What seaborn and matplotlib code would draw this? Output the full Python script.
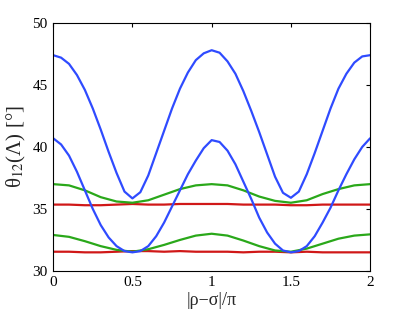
import numpy as np
import pandas as pd
import seaborn as sns
import matplotlib.pyplot as plt

# x grids
x_fine = np.round(np.arange(0, 2.0001, 0.05), 2)
x_coarse = np.round(np.arange(0, 2.0001, 0.1), 2)

# blue curves (read at 0.05 steps)
blue_upper = [47.4, 47.2, 46.7, 45.8, 44.6, 43.1, 41.4, 39.6, 37.9, 36.4, 35.85,
              36.35, 37.7, 39.5, 41.3, 43.1, 44.7, 46.0, 47.0, 47.55, 47.8,
              47.6, 46.9, 45.9, 44.5, 42.9, 41.2, 39.4, 37.6, 36.3, 35.9,
              36.4, 37.8, 39.5, 41.3, 43.1, 44.7, 45.9, 46.8, 47.3, 47.4]
blue_lower = [40.7, 40.2, 39.3, 38.0, 36.5, 35.0, 33.7, 32.7, 32.0, 31.6, 31.5,
              31.6, 32.0, 32.8, 33.9, 35.2, 36.5, 37.8, 38.9, 39.9, 40.55,
              40.4, 39.7, 38.6, 37.2, 35.8, 34.3, 33.1, 32.2, 31.65, 31.5,
              31.6, 32.0, 32.8, 33.9, 35.1, 36.5, 37.8, 39.0, 40.0, 40.7]

# green and red curves (read at 0.1 steps)
green_upper = [37.0, 36.9, 36.5, 35.95, 35.6, 35.5, 35.7, 36.15, 36.6, 36.9, 37.0,
               36.9, 36.5, 36.0, 35.65, 35.5, 35.7, 36.2, 36.6, 36.9, 37.0]
green_lower = [32.9, 32.75, 32.4, 32.0, 31.7, 31.55, 31.75, 32.1, 32.5, 32.85, 33.0,
               32.85, 32.45, 32.0, 31.65, 31.55, 31.8, 32.2, 32.6, 32.85, 32.95]
red_upper = [35.35, 35.35, 35.3, 35.3, 35.35, 35.4, 35.35, 35.35, 35.4, 35.4, 35.4,
             35.4, 35.35, 35.35, 35.35, 35.3, 35.3, 35.35, 35.35, 35.35, 35.35]
red_lower = [31.55, 31.55, 31.5, 31.5, 31.55, 31.6, 31.6, 31.55, 31.6, 31.55, 31.55,
             31.55, 31.5, 31.55, 31.55, 31.5, 31.55, 31.5, 31.5, 31.5, 31.5]

sns.set_theme(style='white')
plt.rcParams['font.family'] = ['Liberation Serif', 'DejaVu Serif']
plt.rcParams['mathtext.fontset'] = 'stix'

fig = plt.figure(figsize=(4.09, 3.10), dpi=100)
ax = fig.add_axes([0.13, 0.126, 0.775, 0.80])

series = [
    (x_coarse, red_upper, '#d01818'),
    (x_coarse, red_lower, '#d01818'),
    (x_coarse, green_upper, '#2aa81a'),
    (x_coarse, green_lower, '#2aa81a'),
    (x_fine, blue_upper, '#2f4bff'),
    (x_fine, blue_lower, '#2f4bff'),
]
for xs, ys, c in series:
    df = pd.DataFrame({'x': xs, 'y': ys})
    sns.lineplot(data=df, x='x', y='y', color=c, linewidth=1.6, ax=ax)

ax.set_xlim(0, 2)
ax.set_ylim(30, 50)
ax.set_xticks([0, 0.5, 1, 1.5, 2])
ax.set_xticklabels(['0', '0.5', '1', '1.5', '2'])
ax.set_yticks([30, 35, 40, 45, 50])
ax.tick_params(direction='in', length=3, width=0.8, top=True, right=True,
               labelsize=11, colors='black', pad=4)
for s in ax.spines.values():
    s.set_color('black')
    s.set_linewidth(0.8)
ax.set_xlabel('|ρ−σ|/π', fontsize=13, labelpad=2)
ax.set_ylabel(r'θ$_{12}$(Λ) [°]', fontsize=15, labelpad=3)

fig.savefig('out.png', dpi=100)
